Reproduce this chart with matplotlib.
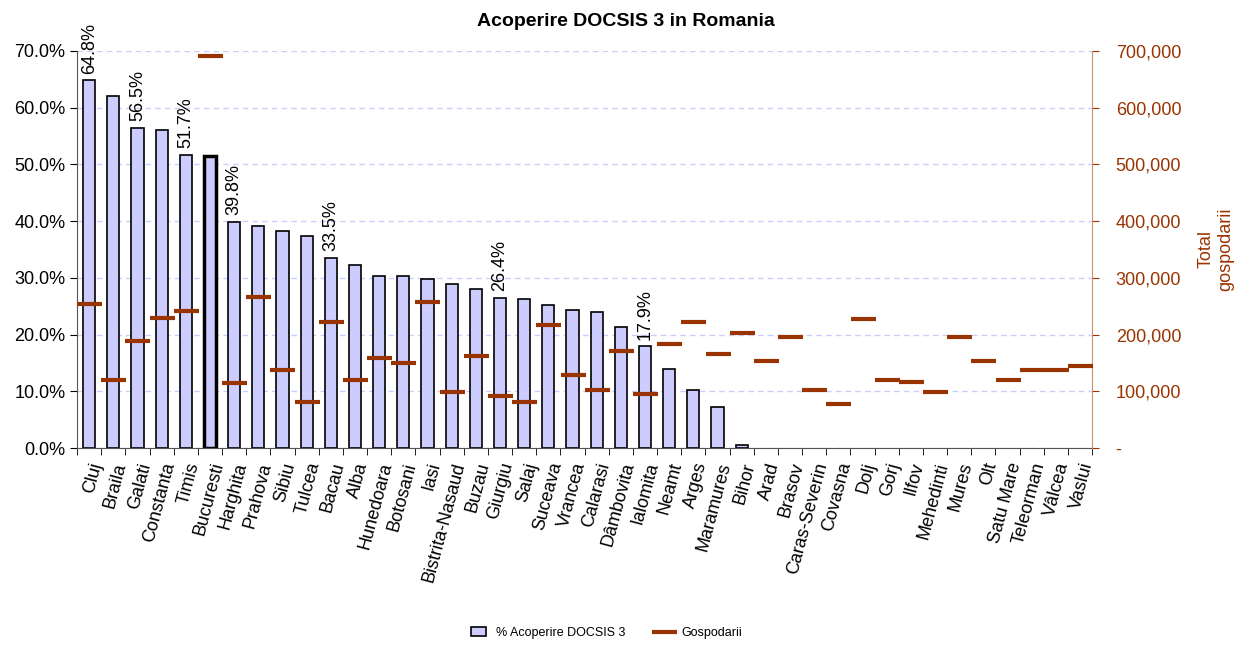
import numpy as np
import matplotlib.pyplot as plt
from matplotlib.ticker import FuncFormatter, MultipleLocator

plt.rcParams['font.family'] = ['Liberation Sans', 'DejaVu Sans']

# judete
judete = ["Cluj", "Braila", "Galati", "Constanta", "Timis", "Bucuresti", "Harghita",
          "Prahova", "Sibiu", "Tulcea", "Bacau", "Alba", "Hunedoara", "Botosani",
          "Iasi", "Bistrita-Nasaud", "Buzau", "Giurgiu", "Salaj", "Suceava",
          "Vrancea", "Calarasi", "Dâmbovita", "Ialomita", "Neamt", "Arges",
          "Maramures", "Bihor", "Arad", "Brasov", "Caras-Severin", "Covasna",
          "Dolj", "Gorj", "Ilfov", "Mehedinti", "Mures", "Olt", "Satu Mare",
          "Teleorman", "Vâlcea", "Vaslui"]

# % acoperire DOCSIS 3
acoperire = [64.8, 62.1, 56.5, 56.0, 51.7, 51.5, 39.8, 39.2, 38.3, 37.4, 33.5,
             32.2, 30.4, 30.3, 29.8, 28.9, 28.0, 26.4, 26.2, 25.2, 24.3, 24.0,
             21.3, 17.9, 13.9, 10.3, 7.2, 0.6, 0, 0, 0, 0, 0, 0, 0, 0, 0, 0, 0,
             0, 0, 0]

# total gospodarii
gospodarii = [254000, 120000, 189000, 229000, 241000, 692000, 114000, 266000,
              138000, 80500, 223000, 120000, 159000, 150000, 257000, 98700,
              163000, 92000, 80500, 217000, 129000, 101700, 171600, 95800,
              184000, 223000, 165700, 202000, 153000, 196000, 101700, 77600,
              226800, 120000, 117000, 98700, 196000, 153000, 120000, 138000,
              138000, 144600]

# etichete afisate
etichete = [0, 2, 4, 6, 10, 17, 23]

maro = '#993300'
x = np.arange(len(judete))

fig = plt.figure(figsize=(12.51, 6.46), dpi=100)
ax = fig.add_axes([0.0616, 0.3065, 0.8114, 0.6146])

lw = [2.5 if j == "Bucuresti" else (0 if v == 0 else 1.2)
      for j, v in zip(judete, acoperire)]
bars = ax.bar(x, acoperire, width=0.5, color='#CCCCFF', edgecolor='black',
              linewidth=lw, zorder=2, label='% Acoperire DOCSIS 3')

for i in etichete:
    ax.annotate(f"{acoperire[i]:.1f}%", (x[i], acoperire[i]), xytext=(0, 5),
                textcoords='offset points', rotation=90, ha='center',
                va='bottom', fontsize=13)

ax.set_xlim(-0.5, len(judete) - 0.5)
ax.set_ylim(0, 70)
ax.yaxis.set_major_locator(MultipleLocator(10))
ax.yaxis.set_major_formatter(FuncFormatter(lambda v, p: f"{v:.1f}%"))
ax.grid(axis='y', color='#CCCCFF', linestyle=(0, (4, 3)), linewidth=1, zorder=0)
ax.set_axisbelow(True)
ax.tick_params(axis='y', labelsize=13, length=5, direction='out')
ax.set_xticks(x)
ax.set_xticklabels(judete, rotation=75, ha='right', rotation_mode='anchor',
                   fontsize=13)
ax.set_xticks(np.arange(len(judete) + 1) - 0.5, minor=True)
ax.tick_params(axis='x', which='major', length=0, pad=9)
ax.tick_params(axis='x', which='minor', length=5, direction='out')
for s in ['top', 'right']:
    ax.spines[s].set_visible(False)
ax.spines['left'].set_color('#555555')
ax.spines['bottom'].set_color('#555555')

ax2 = ax.twinx()
ax2.plot(x, gospodarii, linestyle='none', marker='_', markersize=18,
         markeredgewidth=3, color=maro, zorder=3, label='Gospodarii')
ax2.set_ylim(0, 700000)
ax2.yaxis.set_major_locator(MultipleLocator(100000))
ax2.yaxis.set_major_formatter(FuncFormatter(lambda v, p: "-" if v == 0 else f"{v:,.0f}"))
ax2.tick_params(axis='y', colors=maro, labelsize=13, length=5, pad=12)
ax2.set_ylabel("Total\ngospodarii", color=maro, fontsize=13, labelpad=12)
for s in ['top', 'left', 'bottom']:
    ax2.spines[s].set_visible(False)
ax2.spines['right'].set_color('#C8906C')

fig.suptitle("Acoperire DOCSIS 3 in Romania", x=0.5, y=0.98, fontsize=14,
             fontweight='bold')

h1, l1 = ax.get_legend_handles_labels()
h2, l2 = ax2.get_legend_handles_labels()
fig.legend(h1 + h2, l1 + l2, loc='center', bbox_to_anchor=(0.485, 0.02),
           ncol=2, frameon=False, fontsize=9, handlelength=1.2,
           columnspacing=2.5)

fig.savefig("out.png", dpi=100)
